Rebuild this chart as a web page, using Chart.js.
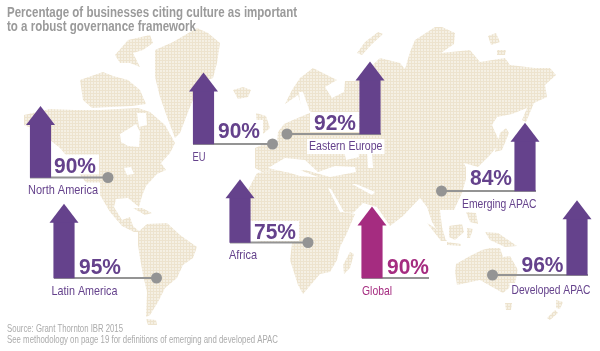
<!DOCTYPE html>
<html>
<head>
<meta charset="utf-8">
<style>
  html, body { margin: 0; padding: 0; background: #fff; }
  canvas { display: block; }
</style>
<script src="https://cdn.jsdelivr.net/npm/chart.js@4"></script>
</head>
<body>
<canvas id="mapChart" width="600" height="351"></canvas>
<script>
// Chart data
const regions = ["North America", "EU", "Eastern Europe", "Emerging APAC", "Developed APAC", "Latin America", "Africa", "Global"];
const values = [90, 90, 92, 84, 96, 95, 75, 90];
const titleLines = ["Percentage of businesses citing culture as important", "to a robust governance framework"];
const sourceLines = ["Source: Grant Thornton IBR 2015", "See methodology on page 19 for definitions of emerging and developed APAC"];

// Placement on the 600x351 map axes
const arrowX = [40.5, 203.5, 370, 525, 577, 64, 240, 372];
const arrowBase = [177.5, 144, 134, 191, 275, 278, 242.5, 278];
const leaderFrom = [30, 193, 381, 536, 588, 54, 230, 362];
const leaderTo = [108, 272.5, 287, 441.5, 492.5, 156.5, 308, 429];
const hasDot = [true, true, true, true, true, true, true, false];
const valueX = [54, 218, 314, 470, 521.5, 79, 254, 387];
const valueY = [172.5, 138, 130, 185, 271.5, 274, 239, 274];
const labelX = [28, 192.5, 309, 462, 511.5, 51.5, 229, 362];
const labelY = [193.5, 160.5, 150, 208, 294, 295, 259, 295];
const labelWidth = [70, 13, 73.5, 74.5, 79, 66, 28, 30];
const titleWidth = [290, 189];
const sourceWidth = [116, 271];

// Land outlines, in map axis units
const greenland = [[155,50],[173,42],[197,28],[208,33],[220,43],[217,63],[213,78],[200,83],[190,107],[180,133],[175,138],[167,117],[160,97],[155,77]];
const ellesmere = [[115,55],[128,40],[150,35],[153,43],[143,50],[133,53],[140,67],[130,63],[120,63]];
const arcticIslands = [[80,80],[103,72],[113,76],[128,80],[140,90],[146,104],[132,106],[110,107],[92,108],[83,100]];
const iceland = [[233,90],[243,87],[251,90],[248,97],[238,99]];
const northAmerica = [[24,115],[50,109],[75,110],[100,110],[118,109],[138,108],[150,112],[165,125],[175,143],[170,153],[161,163],[166,170],[157,174],[146,186],[142,196],[139,207],[134,203],[128,198],[116,199],[114,207],[122,220],[130,217],[133,226],[140,232],[134,232],[122,226],[110,212],[100,195],[88,185],[80,175],[70,160],[60,148],[50,140],[36,130],[24,125]];
const cuba = [[133,208],[142,208],[152,213],[145,215]];
const southAmerica = [[138,232],[147,224],[167,223],[180,235],[197,247],[193,258],[183,265],[177,278],[165,288],[158,302],[150,315],[146,317],[147,292],[143,275],[140,258],[138,245]];
const fuego = [[146,319],[156,320],[157,325],[148,325]];
const africa = [[248,190],[257,173],[280,170],[300,176],[328,178],[332,190],[342,212],[355,214],[347,233],[340,247],[337,260],[330,272],[320,274],[303,294],[298,285],[290,260],[292,243],[262,242],[250,240],[248,212]];
const madagascar = [[350,252],[354,254],[350,268],[344,274],[343,265]];
const britain = [[256,113],[266,116],[270,128],[263,134],[257,128]];
const novayaZemlya = [[357,53],[365,42],[378,32],[383,34],[372,44],[362,55]];
const siberianIslands = [[488,36],[496,33],[500,42],[491,45]];
const wrangelIslands = [[497,50],[506,50],[505,55],[497,55]];
const eurasia = [[285,104],[292,90],[300,78],[313,68],[337,80],[325,87],[332,98],[344,92],[345,81],[356,81],[380,58],[400,63],[405,69],[410,52],[415,40],[435,27],[442,27],[455,33],[454,44],[441,53],[470,50],[480,62],[505,58],[510,65],[535,68],[550,68],[556,75],[545,85],[547,97],[534,103],[526,122],[522,120],[527,108],[512,114],[497,117],[492,125],[500,143],[490,155],[478,167],[464,163],[468,172],[462,193],[454,210],[440,210],[442,227],[446,241],[438,232],[432,222],[427,207],[420,198],[403,216],[390,226],[377,207],[370,205],[363,203],[353,213],[342,212],[328,188],[320,178],[300,170],[280,170],[262,172],[255,168],[255,148],[262,145],[277,142],[278,132],[284,124],[293,120],[312,112],[302,108],[298,95],[285,104]];
const sumatra = [[427,223],[435,228],[447,241],[441,241]];
const borneo = [[449,226],[462,224],[464,232],[455,240],[449,237]];
const java = [[447,242],[461,244],[461,246],[447,245]];
const sulawesi = [[467,228],[473,229],[470,238],[467,238]];
const philippines = [[466,212],[476,213],[478,224],[470,222]];
const newGuinea = [[485,232],[498,233],[517,246],[505,247],[490,240]];
const australia = [[455,272],[456,264],[470,256],[482,250],[490,248],[500,248],[503,257],[510,256],[518,270],[515,283],[503,293],[494,288],[480,280],[466,283],[457,285]];
const tasmania = [[505,303],[512,303],[511,310],[506,310]];
const newZealandN = [[556,300],[563,302],[560,309],[556,308]];
const newZealandS = [[555,310],[558,313],[550,320],[547,318]];
const japan = [[500,133],[506,128],[509,133],[502,150],[495,152]];

// Seas cut back out of the land
const mediterranean = [[268,168],[285,158],[305,160],[318,172],[335,166],[355,167],[356,172],[330,177],[305,170],[285,172]];
const blackSea = [[344,150],[358,150],[359,157],[346,160]];
const caspian = [[367,150],[372,152],[373,168],[368,168]];
const redSea = [[328,188],[331,189],[344,212],[340,212]];
const persianGulf = [[352,184],[356,184],[375,192],[372,195]];
const baltic = [[299,92],[303,92],[310,112],[301,110]];
const hudsonBay = [[120,134],[130,128],[136,124],[140,132],[139,147],[128,146],[121,142]];
const foxeBasin = [[137,113],[146,113],[147,125],[139,127]];
const greatLakes = [[124,168],[131,167],[134,174],[127,175]];
const okhotsk = [[513,115],[522,120],[519,128],[508,130]];

const landShapes = [greenland, ellesmere, arcticIslands, iceland, northAmerica, cuba, southAmerica, fuego, africa, madagascar, britain, novayaZemlya, siberianIslands, wrangelIslands, eurasia, sumatra, borneo, java, sulawesi, philippines, newGuinea, australia, tasmania, newZealandN, newZealandS, japan];
const seaShapes = [mediterranean, blackSea, caspian, redSea, persianGulf, baltic, hudsonBay, foxeBasin, greatLakes, okhotsk];

const PURPLE = "#65428c";
const MAGENTA = "#a52c80";
const GREY = "#949494";
const FONT = '"Liberation Sans", sans-serif';

// Little woven tile that fills the land
function landPattern() {
  const tile = document.createElement("canvas");
  tile.width = 3;
  tile.height = 3;
  const c = tile.getContext("2d");
  c.fillStyle = "#ede3ce";
  c.fillRect(0, 0, 3, 3);
  c.fillStyle = "#f5f0e4";
  c.fillRect(1, 1, 2, 2);
  return c.createPattern(tile, "repeat");
}

function polygon(points, color) {
  return {
    type: "line",
    data: points.map(([x, y]) => ({ x, y })),
    fill: "shape",
    backgroundColor: color,
    borderWidth: 0,
    pointRadius: 0,
    tension: 0,
  };
}

function box(x, y, w, h) {
  return [[x, y], [x + w, y], [x + w, y + h], [x, y + h]];
}

// Arrow length follows the value
function arrowTip(i) {
  return arrowBase[i] - (22 + values[i] * 0.55);
}

function arrowColor(i) {
  return regions[i] === "Global" ? MAGENTA : PURPLE;
}

// First dataset in the list ends up on top
const datasets = [];

regions.forEach((r, i) => {
  const tip = arrowTip(i);
  datasets.push(polygon([[arrowX[i], tip], [arrowX[i] + 14.5, tip + 19], [arrowX[i] - 14.5, tip + 19]], arrowColor(i)));
});

datasets.push({
  type: "bar",
  data: regions.map((r, i) => ({ x: arrowX[i], y: [arrowTip(i) + 18, arrowBase[i]] })),
  backgroundColor: regions.map((r, i) => arrowColor(i)),
  barThickness: 20.5,
  grouped: false,
});

datasets.push({
  type: "scatter",
  data: regions.map((r, i) => ({ x: leaderTo[i], y: arrowBase[i] })).filter((p, i) => hasDot[i]),
  backgroundColor: GREY,
  pointRadius: 5.5,
  pointBorderWidth: 0,
});

regions.forEach((r, i) => {
  datasets.push({
    type: "line",
    data: [{ x: leaderFrom[i], y: arrowBase[i] }, { x: leaderTo[i], y: arrowBase[i] }],
    borderColor: GREY,
    borderWidth: 2,
    pointRadius: 0,
    fill: false,
  });
});

// White patches that keep the text readable over the map
regions.forEach((r, i) => {
  datasets.push(polygon(box(valueX[i] - 4, valueY[i] - 18, 49, 20), "#ffffff"));
  datasets.push(polygon(box(labelX[i] - 2, labelY[i] - 11, labelWidth[i] + 4, 15), "#ffffff"));
});

seaShapes.forEach((s) => datasets.push(polygon(s, "#ffffff")));
const pattern = landPattern();
landShapes.forEach((s) => datasets.push(polygon(s, pattern)));

// All the text sits on top of the marks, squeezed to the condensed widths of the original
const textPlugin = {
  id: "textPlugin",
  afterDatasetsDraw(chart) {
    const ctx = chart.ctx;
    const { x, y } = chart.scales;
    ctx.save();
    ctx.textAlign = "left";
    ctx.textBaseline = "alphabetic";

    ctx.fillStyle = "#9a9a9a";
    ctx.font = "bold 14.5px " + FONT;
    titleLines.forEach((line, i) => ctx.fillText(line, 7, 16.5 + i * 14, titleWidth[i]));

    ctx.fillStyle = "#ababab";
    ctx.font = "10.5px " + FONT;
    sourceLines.forEach((line, i) => ctx.fillText(line, 7, 332 + i * 10.5, sourceWidth[i]));

    regions.forEach((r, i) => {
      ctx.fillStyle = arrowColor(i);
      ctx.font = "bold 21.5px " + FONT;
      ctx.fillText(values[i] + "%", x.getPixelForValue(valueX[i]), y.getPixelForValue(valueY[i]), 42);
      ctx.font = "13px " + FONT;
      ctx.fillText(r, x.getPixelForValue(labelX[i]), y.getPixelForValue(labelY[i]), labelWidth[i]);
    });
    ctx.restore();
  },
};

new Chart(document.getElementById("mapChart").getContext("2d"), {
  type: "line",
  data: { datasets },
  options: {
    responsive: false,
    animation: false,
    layout: { padding: 0, autoPadding: false },
    plugins: { legend: { display: false }, tooltip: { enabled: false } },
    scales: {
      x: { type: "linear", min: 0, max: 600, display: false, offset: false },
      y: { type: "linear", min: 0, max: 351, reverse: true, display: false },
    },
  },
  plugins: [textPlugin],
});
</script>
</body>
</html>
